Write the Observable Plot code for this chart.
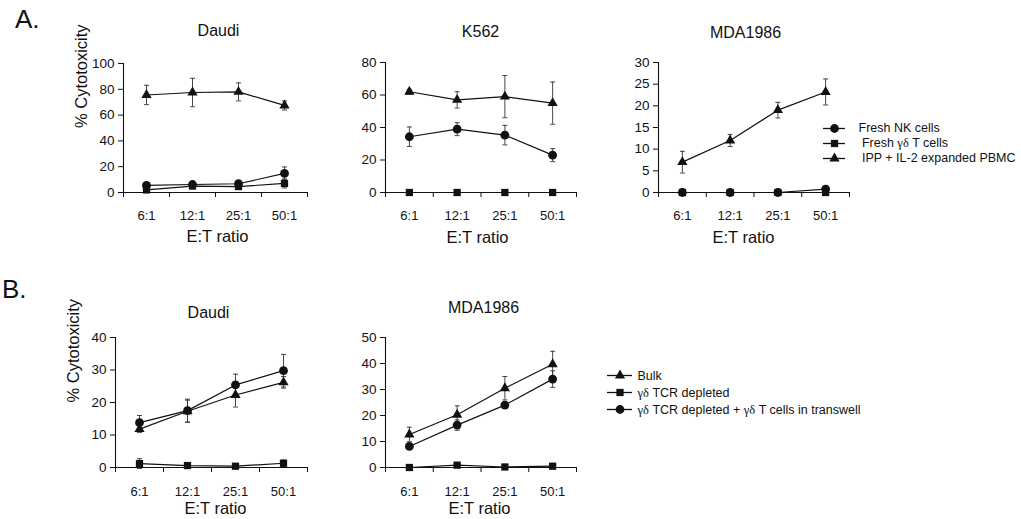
<!DOCTYPE html>
<html><head><meta charset="utf-8">
<script src="https://cdn.jsdelivr.net/npm/d3@7"></script>
<script src="https://cdn.jsdelivr.net/npm/@observablehq/plot@0.6"></script>
<style>
body{margin:0;background:#fff;}
#wrap{position:relative;width:1021px;height:519px;font-family:"Liberation Sans",Arial,sans-serif;color:#111;overflow:hidden;background:#fff;}
#wrap > *{position:absolute;}
.letter{font-size:26px;line-height:1;}
</style></head><body><div id="wrap"></div>
<script>
// ---------- data ----------
const ratios = ["6:1", "12:1", "25:1", "50:1"];
const xLabel = "E:T ratio";
const yLabel = "% Cytotoxicity";

const seriesA = ["Fresh NK cells", " Fresh γδ T cells", " IPP + IL-2 expanded PBMC"];
const symbolsA = ["circle", "square", "triangle"];
const seriesB = ["Bulk", "γδ TCR depleted", "γδ TCR depleted + γδ T cells in transwell"];
const symbolsB = ["triangle", "square", "circle"];

// Panel A – Daudi
const aDaudiTicks = [0, 20, 40, 60, 80, 100];
const aDaudiNK = [5.5, 6.2, 6.8, 14.8];
const aDaudiNKErr = [1, 1, 1, 5];
const aDaudiGD = [2, 5, 4.6, 7];
const aDaudiGDErr = [1, 1, 1, 3.5];
const aDaudiIPP = [75.6, 77.5, 78, 67.5];
const aDaudiIPPErr = [7.5, 11, 7, 3.5];

// Panel A – K562
const aK562Ticks = [0, 20, 40, 60, 80];
const aK562NK = [34.3, 39, 35.3, 23];
const aK562NKErr = [6, 4, 6, 4];
const aK562GD = [0, 0, 0, 0];
const aK562GDErr = [0, 0, 0, 0];
const aK562IPP = [62, 57, 59, 55];
const aK562IPPErr = [1.5, 5, 13, 13];

// Panel A – MDA1986
const aMDATicks = [0, 5, 10, 15, 20, 25, 30];
const aMDANK = [0, 0, 0, 0.8];
const aMDANKErr = [0, 0, 0, 0];
const aMDAGD = [0, 0, 0, 0];
const aMDAGDErr = [0, 0, 0, 0];
const aMDAIPP = [7, 12, 19, 23.2];
const aMDAIPPErr = [2.5, 1.4, 1.8, 3];

// Panel B – Daudi
const bDaudiTicks = [0, 10, 20, 30, 40];
const bDaudiBulk = [11.8, 17.3, 22.3, 26.2];
const bDaudiBulkErr = [1, 3.4, 3.7, 1.8];
const bDaudiDep = [1.2, 0.6, 0.4, 1.3];
const bDaudiDepErr = [1.5, 0.5, 0.5, 1];
const bDaudiTW = [13.8, 17.5, 25.4, 29.8];
const bDaudiTWErr = [2.2, 3.5, 3.3, 5];

// Panel B – MDA1986
const bMDATicks = [0, 10, 20, 30, 40, 50];
const bMDABulk = [12.7, 20.3, 30.5, 39.7];
const bMDABulkErr = [2.8, 3.4, 4.5, 5];
const bMDADep = [0, 0.9, 0.2, 0.5];
const bMDADepErr = [0.3, 0.3, 0.3, 0.3];
const bMDATW = [8.1, 16.3, 24, 34];
const bMDATWErr = [1, 2, 1, 3.2];

// ---------- drawing ----------
const FONT = '"Liberation Sans", Arial, sans-serif';
const INK = "#111";
const wrap = document.getElementById("wrap");
const rFor = {circle: 4.4, square: 4.1, triangle: 3.8};
const cap = {draw(ctx) { ctx.moveTo(-2.5, 0); ctx.lineTo(2.5, 0); }};
const boundaries = d3.range(ratios.length + 1).map(i => i + 0.5);

function panel(cfg) {
  const mL = 60, mR = 8, mT = 45, mB = 55;
  const W = cfg.x1 - cfg.x0, H = cfg.y0 - cfg.yTop;
  const rows = cfg.series.flatMap(s => s.values.map((v, i) => ({series: s.name, x: i + 1, v, e: s.errors[i]})));
  const errRows = rows.filter(d => d.e > 0);
  const cx = cfg.x0 + W / 2;
  const marks = [
    Plot.ruleX(errRows, {x: "x", y1: d => d.v - d.e, y2: d => d.v + d.e, stroke: "#333", strokeWidth: 0.9}),
    Plot.dot(errRows, {x: "x", y: d => d.v + d.e, symbol: cap, stroke: "#333", strokeWidth: 0.9, fill: "none"}),
    Plot.dot(errRows, {x: "x", y: d => d.v - d.e, symbol: cap, stroke: "#333", strokeWidth: 0.9, fill: "none"}),
    Plot.ruleY([0], {stroke: INK, strokeWidth: 1.1}),
    Plot.ruleX([boundaries[0]], {stroke: INK, strokeWidth: 1.1}),
    Plot.axisY({ticks: cfg.yTicks, tickSize: 5, tickPadding: 4, label: null, fontSize: 13.5}),
    Plot.axisX({ticks: boundaries, tickSize: 5, tickFormat: () => "", label: null}),
    Plot.axisX({ticks: ratios.map((r, i) => i + 1), tickSize: 0, tickPadding: cfg.tickPad, tickFormat: i => ratios[i - 1], label: null, fontSize: 13}),
    Plot.line(rows, {x: "x", y: "v", z: "series", stroke: INK, strokeWidth: 1.2}),
    ...cfg.series.map(s => Plot.dot(rows.filter(d => d.series === s.name), {x: "x", y: "v", symbol: s.symbol, r: rFor[s.symbol], fill: INK, stroke: "none"})),
    Plot.text([cfg.title], {frameAnchor: "top", lineAnchor: "bottom", dy: cfg.titleBase - cfg.yTop, dx: cfg.titleCx - cx, fontSize: 16}),
    Plot.text([xLabel], {frameAnchor: "bottom", lineAnchor: "bottom", dy: cfg.xlabBase - cfg.y0, dx: cfg.xlabCx - cx, fontSize: 16.5})
  ];
  if (cfg.ylabBase) marks.push(Plot.text([yLabel], {frameAnchor: "left", rotate: -90, lineAnchor: "bottom", dx: cfg.ylabBase - cfg.x0, fontSize: 16.5}));
  const svg = Plot.plot({
    width: mL + W + mR, height: mT + H + mB,
    marginLeft: mL, marginRight: mR, marginTop: mT, marginBottom: mB,
    x: {domain: [boundaries[0], boundaries[boundaries.length - 1]]},
    y: {domain: [0, d3.max(cfg.yTicks)]},
    style: {background: "transparent", fontFamily: FONT, fontSize: "13px", color: INK, overflow: "visible"},
    marks
  });
  svg.style.left = (cfg.x0 - mL) + "px";
  svg.style.top = (cfg.yTop - mT) + "px";
  wrap.appendChild(svg);
}

function serifGreek(svg) {
  svg.querySelectorAll("text").forEach(t => {
    const s = t.textContent;
    if (!s.includes("γδ")) return;
    t.textContent = "";
    s.split(/(γδ)/).forEach(part => {
      if (!part) return;
      const ts = document.createElementNS("http://www.w3.org/2000/svg", "tspan");
      ts.textContent = part;
      if (part === "γδ") ts.setAttribute("font-family", '"Liberation Serif", "Times New Roman", serif');
      t.appendChild(ts);
    });
  });
}

function legend(names, syms, cfg) {
  const mT = 8, mL = 8, mR = 250;
  const svg = Plot.plot({
    width: mL + cfg.lineLen + mR, height: mT + cfg.gap * (names.length - 1) + 8,
    marginLeft: mL, marginRight: mR, marginTop: mT, marginBottom: 8,
    y: {type: "point", domain: names, padding: 0, axis: null},
    style: {background: "transparent", fontFamily: FONT, fontSize: "12.5px", color: INK, overflow: "visible"},
    marks: [
      Plot.ruleY(names, {y: d => d, stroke: INK, strokeWidth: 1.3}),
      ...names.map((n, i) => Plot.dot([n], {y: d => d, frameAnchor: "middle", symbol: syms[i], r: rFor[syms[i]], fill: INK, stroke: "none"})),
      Plot.text(names, {y: d => d, frameAnchor: "right", textAnchor: "start", dx: cfg.dx, fontSize: 12.5})
    ]
  });
  svg.querySelectorAll("text").forEach(t => t.style.whiteSpace = "pre");
  serifGreek(svg);
  svg.style.left = (cfg.x - mL) + "px";
  svg.style.top = (cfg.y - mT) + "px";
  wrap.appendChild(svg);
}

function letter(txt, left, top) {
  const d = document.createElement("div");
  d.className = "letter";
  d.textContent = txt;
  d.style.left = left + "px";
  d.style.top = top + "px";
  wrap.appendChild(d);
}

const mk = (names, syms, vals, errs) => names.map((n, i) => ({name: n, symbol: syms[i], values: vals[i], errors: errs[i]}));

letter("A.", 15, 6);
letter("B.", 2, 276);

panel({title: "Daudi", yTicks: aDaudiTicks, x0: 123, x1: 307, yTop: 63, y0: 192,
  titleCx: 218, titleBase: 35, xlabCx: 217, xlabBase: 241, tickPad: 18, ylabBase: 86,
  series: mk(seriesA, symbolsA, [aDaudiNK, aDaudiGD, aDaudiIPP], [aDaudiNKErr, aDaudiGDErr, aDaudiIPPErr])});
panel({title: "K562", yTicks: aK562Ticks, x0: 385, x1: 576, yTop: 62, y0: 192,
  titleCx: 480, titleBase: 36, xlabCx: 477, xlabBase: 242, tickPad: 18,
  series: mk(seriesA, symbolsA, [aK562NK, aK562GD, aK562IPP], [aK562NKErr, aK562GDErr, aK562IPPErr])});
panel({title: "MDA1986", yTicks: aMDATicks, x0: 658, x1: 849, yTop: 62, y0: 192,
  titleCx: 745, titleBase: 37, xlabCx: 743, xlabBase: 242, tickPad: 18,
  series: mk(seriesA, symbolsA, [aMDANK, aMDAGD, aMDAIPP], [aMDANKErr, aMDAGDErr, aMDAIPPErr])});
panel({title: "Daudi", yTicks: bDaudiTicks, x0: 115, x1: 307, yTop: 337, y0: 467,
  titleCx: 208, titleBase: 317, xlabCx: 215, xlabBase: 513, tickPad: 19, ylabBase: 78,
  series: mk(seriesB, symbolsB, [bDaudiBulk, bDaudiDep, bDaudiTW], [bDaudiBulkErr, bDaudiDepErr, bDaudiTWErr])});
panel({title: "MDA1986", yTicks: bMDATicks, x0: 385, x1: 576, yTop: 337, y0: 467,
  titleCx: 483, titleBase: 312, xlabCx: 479, xlabBase: 513, tickPad: 19,
  series: mk(seriesB, symbolsB, [bMDABulk, bMDADep, bMDATW], [bMDABulkErr, bMDADepErr, bMDATWErr])});

legend(seriesA, symbolsA, {x: 823, y: 127.7, lineLen: 22, gap: 15.3, dx: 13});
legend(seriesB, symbolsB, {x: 607, y: 374, lineLen: 25, gap: 17.5, dx: 5});
</script>
</body></html>
